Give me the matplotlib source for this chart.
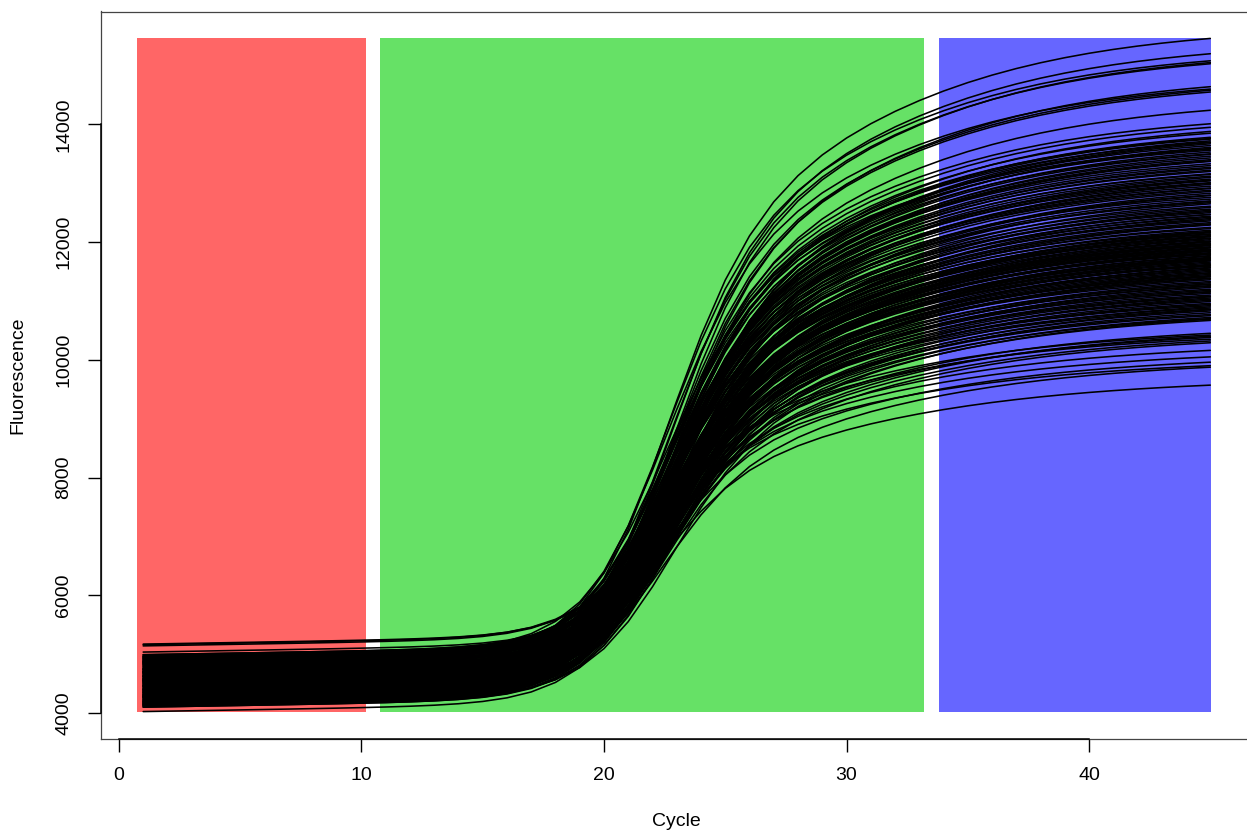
import numpy as np
import matplotlib
matplotlib.use("Agg")
import matplotlib.pyplot as plt

plt.rcParams["font.family"] = ["Liberation Sans", "DejaVu Sans"]

cycles = np.arange(1, 46)

# Fluorescence of each well at cycle 1 (baseline level)
start_fluo = [
    # high-plateau wells
    4620, 4480, 4750, 4380, 4560, 4290, 4830, 4450, 4680, 4150, 4920, 4530, 4360, 4710,
    # main population
    4480, 4720, 4210, 4890, 4350, 4600, 4130, 4950, 4420, 4780,
    4270, 4660, 4540, 4180, 4840, 4390, 4990, 4310, 4570, 4700,
    4240, 4860, 4460, 4120, 4620, 4930, 4330, 4750, 4500, 4200,
    4810, 4410, 4680, 4290, 4970, 4550, 4160, 4730, 4440, 4880,
    4260, 4590, 4370, 4820, 4140, 4650, 4520, 4910, 4230, 4770,
    4340, 4610, 4100, 4850, 4470, 4690, 4190, 4960, 4400, 4560,
    4280, 4800, 4510, 4150, 4740, 4360, 4900, 4220, 4630, 4430,
    4870, 4300, 4580, 4710, 4170, 4940, 4490, 4250, 4670, 4380,
    4830, 4110, 4540, 4760, 4320, 4980, 4450, 4210, 4640, 4860,
    4350, 4590, 4130, 4790, 4420, 4700, 4260, 4920, 4530, 4190,
    4680, 4400, 4580, 4310,
    4520, 4280, 4840, 4160, 4690, 4400, 4950, 4230, 4610, 4370,
    4780, 4120, 4550, 4880, 4300, 4660, 4190, 4730, 4460, 4990,
    4250, 4590, 4820, 4140, 4500, 4710, 4330, 4920, 4180, 4640,
    4410, 4860, 4270, 4570, 4100, 4750, 4440, 4960, 4220, 4620,
    4350, 4800, 4200, 4540, 4900, 4310, 4680, 4150, 4470, 4850,
    4260, 4630, 4390, 4940, 4170, 4560, 4740, 4290, 4510, 4880,
    # low-plateau wells
    4560, 5160, 4320, 4750, 5140, 4470, 4024, 4880, 5035, 4640, 5170, 4280, 4700,
]

# Fluorescence of each well at cycle 45 (end of plateau)
end_fluo = [
    15460, 15200, 15080, 15050, 15030, 14640, 14600, 14580, 14550, 14240, 14010, 13950, 13880, 13850,
    13780, 13760, 13720, 13700, 13690, 13640, 13610, 13590, 13530, 13500,
    13490, 13430, 13380, 13370, 13330, 13270, 13250, 13220, 13160, 13150,
    13100, 13050, 13040, 13000, 12950, 12920, 12910, 12860, 12800, 12790,
    12760, 12700, 12690, 12650, 12610, 12560, 12540, 12500, 12470, 12420,
    12400, 12380, 12330, 12300, 12290, 12250, 12200, 12180, 12160, 12130,
    12100, 12090, 12060, 12040, 12020, 12000, 11980, 11970, 11940, 11920,
    11900, 11880, 11870, 11840, 11820, 11800, 11790, 11760, 11740, 11720,
    11700, 11690, 11660, 11640, 11610, 11590, 11570, 11540, 11500, 11480,
    11450, 11410, 11380, 11360, 11310, 11280, 11250, 11230, 11180, 11150,
    11130, 11080, 11050, 11010, 10990, 10940, 10900, 10880, 10830, 10800,
    10770, 10720, 10700, 10670,
    13750, 13670, 13560, 13460, 13400, 13300, 13200, 13120, 13070, 12980,
    12880, 12830, 12730, 12670, 12590, 12520, 12440, 12360, 12310, 12230,
    12170, 12110, 12070, 12010, 11960, 11910, 11860, 11810, 11770, 11710,
    11680, 11620, 11560, 11520, 11470, 11430, 11390, 11330, 11290, 11200,
    11160, 11100, 11030, 10960, 10920, 10850, 10750, 10690, 13580, 13010,
    12470, 12140, 11950, 11850, 11730, 11600, 11420, 11260, 11070, 10860,
    10450, 10420, 10400, 10380, 10350, 10320, 10290, 10160, 10050, 9960, 9900, 9875, 9570,
]

# Cycle at which each well reaches half of its fast rise
half_cycle = [
    22.35, 22.45, 22.30, 22.50, 22.40, 22.55, 22.25, 22.40, 22.60, 22.35, 22.45, 22.30, 22.50, 22.40,
    22.42, 22.28, 22.55, 22.36, 22.61, 22.33, 22.47, 22.20, 22.52, 22.39,
    22.30, 22.58, 22.44, 22.25, 22.49, 22.37, 22.65, 22.31, 22.46, 22.40,
    22.53, 22.27, 22.41, 22.60, 22.34, 22.48, 22.22, 22.56, 22.38, 22.45,
    22.29, 22.51, 22.36, 22.63, 22.43, 22.24, 22.57, 22.35, 22.47, 22.32,
    22.54, 22.41, 22.26, 22.59, 22.38, 22.50, 22.30, 22.44, 22.62, 22.33,
    22.46, 22.21, 22.55, 22.39, 22.28, 22.52, 22.42, 22.66, 22.31, 22.48,
    22.37, 22.60, 22.25, 22.45, 22.53, 22.34, 22.49, 22.23, 22.58, 22.40,
    22.32, 22.56, 22.43, 22.27, 22.51, 22.38, 22.64, 22.35, 22.46, 22.29,
    22.52, 22.41, 22.24, 22.57, 22.36, 22.48, 22.30, 22.61, 22.43, 22.33,
    22.47, 22.26, 22.54, 22.39, 22.62, 22.31, 22.45, 22.22, 22.50, 22.37,
    22.44, 22.58, 22.36, 22.49,
    22.38, 22.52, 22.29, 22.46, 22.61, 22.34, 22.49, 22.23, 22.57, 22.41,
    22.31, 22.55, 22.44, 22.26, 22.50, 22.37, 22.63, 22.32, 22.47, 22.40,
    22.54, 22.28, 22.42, 22.59, 22.35, 22.48, 22.21, 22.56, 22.39, 22.45,
    22.30, 22.53, 22.43, 22.25, 22.51, 22.36, 22.62, 22.33, 22.46, 22.41,
    22.27, 22.58, 22.38, 22.49, 22.24, 22.55, 22.40, 22.60, 22.34, 22.47,
    22.43, 22.29, 22.52, 22.37, 22.57, 22.32, 22.45, 22.26, 22.50, 22.39,
    22.15, 22.05, 22.20, 22.10, 22.00, 22.20, 22.05, 22.10, 22.15, 22.05, 22.00, 22.15, 22.05,
]

# Background / exponential / plateau phase windows (cycle range) and fills
phase_bounds = [(0.74, 10.19), (10.76, 33.20), (33.81, 45.03)]
phase_colors = ["#FF6666", "#66E166", "#6666FF"]

BASE_DRIFT = 7.0  # fluorescence units per cycle before amplification


def amplification_curve(f_start, f_end, mid):
    """Sigmoid rise followed by a slow plateau creep."""
    rise = 1.0 / (1.0 + np.exp(-(cycles - mid) / 1.8))
    creep = 1.0 / (1.0 + np.exp(-(cycles - mid - 4.5) / 5.5))
    shape = rise * (0.58 + 0.42 * creep)
    shape = shape / shape[-1]
    base = f_start + BASE_DRIFT * (cycles - 1)
    return base + (f_end - base[-1]) * shape


curves = [amplification_curve(s, e, m) for s, e, m in zip(start_fluo, end_fluo, half_cycle)]
all_vals = np.concatenate(curves)
y_lo, y_hi = all_vals.min(), all_vals.max()
y_pad = 0.04 * (y_hi - y_lo)
x_pad = 0.04 * (cycles[-1] - cycles[0])

W, H = 1247, 834
fig = plt.figure(figsize=(W / 100, H / 100), dpi=100)
left, right, top, bottom = 100.5, 1253.0, 11.5, 738.5
ax = fig.add_axes([left / W, (H - bottom) / H, (right - left) / W, (bottom - top) / H])

for (x0, x1), col in zip(phase_bounds, phase_colors):
    ax.fill_between([x0, x1], y_lo, y_hi, color=col, linewidth=0, zorder=1)

for c in curves:
    ax.plot(cycles, c, color="black", lw=1.15, solid_capstyle="round",
            solid_joinstyle="round", zorder=2)

ax.set_xlim(cycles[0] - x_pad, cycles[-1] + x_pad)
ax.set_ylim(y_lo - y_pad, y_hi + y_pad)

for sp in ax.spines.values():
    sp.set_color("#444444")
    sp.set_linewidth(0.9)

x_ticks = [0, 10, 20, 30, 40]
y_ticks = [4000, 6000, 8000, 10000, 12000, 14000]
ax.set_xticks(x_ticks)
ax.set_yticks(y_ticks)
ax.set_xticklabels([str(t) for t in x_ticks])
ax.set_yticklabels([str(t) for t in y_ticks], rotation=90, va="center")
ax.xaxis.set_ticks_position("bottom")
ax.yaxis.set_ticks_position("left")
ax.tick_params(direction="out", length=9.4, width=1.0, labelsize=14, pad=11, color="black")

# axis lines spanning the tick range
ax.plot([0, 0], [y_ticks[0], y_ticks[-1]], transform=ax.get_yaxis_transform(),
        color="black", lw=1.1, clip_on=False, zorder=5)
ax.plot([x_ticks[0], x_ticks[-1]], [0, 0], transform=ax.get_xaxis_transform(),
        color="black", lw=1.1, clip_on=False, zorder=5)

fig.text((left + right) / 2 / W, (H - 822) / H, "Cycle", ha="center", va="center", fontsize=14)
fig.text(18 / W, (H - (top + bottom) / 2) / H, "Fluorescence", rotation=90,
         ha="center", va="center", fontsize=14)

fig.savefig("out.png", dpi=100)
